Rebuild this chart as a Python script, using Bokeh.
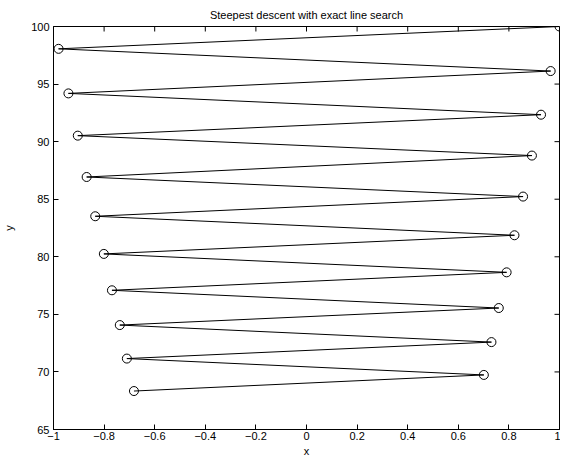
import math
from bokeh.plotting import figure
from bokeh.models import Range1d, FixedTicker
from bokeh.embed import file_html
from bokeh.resources import INLINE

x_vals = [1.0, -0.980, 0.965, -0.941, 0.927, -0.904, 0.891, -0.869, 0.856, -0.835,
          0.822, -0.801, 0.791, -0.769, 0.760, -0.738, 0.731, -0.710, 0.701, -0.682]
y_vals = [100.0, 98.06, 96.13, 94.19, 92.34, 90.52, 88.79, 86.93, 85.23, 83.52,
          81.87, 80.25, 78.65, 77.09, 75.55, 74.07, 72.59, 71.16, 69.74, 68.34]
x_ticks = [-1, -0.8, -0.6, -0.4, -0.2, 0, 0.2, 0.4, 0.6, 0.8, 1]
y_ticks = [65, 70, 75, 80, 85, 90, 95, 100]
x_min, x_max = -1, 1
y_min, y_max = 65, 100
title_text = "Steepest descent with exact line search"

FONT = "Liberation Sans"

p = figure(width=560, height=459, output_backend="svg", toolbar_location=None,
           x_range=Range1d(x_min, x_max), y_range=Range1d(y_min, y_max),
           title=title_text, min_border_left=46, min_border_right=1,
           min_border_top=0, min_border_bottom=0)
p.title.align = "center"
p.title.text_font = FONT
p.title.text_font_size = "11px"
p.title.text_font_style = "normal"
p.title.text_color = "black"
p.title.offset = 0
p.title.standoff = 12
p.grid.visible = False
p.outline_line_color = "black"
p.outline_line_width = 1
p.background_fill_color = "white"
p.border_fill_color = "white"

p.line(x_vals, y_vals, line_color="black", line_width=1)
p.scatter(x_vals, y_vals, marker="circle", size=9, fill_color=None,
          line_color="black", line_width=1)

# inward ticks on the top and right edges of the box
p.ray(x=x_ticks, y=[y_max] * len(x_ticks), length=5, length_units="screen",
      angle=-math.pi / 2, line_color="black", line_width=1)
p.ray(x=[x_max] * len(y_ticks), y=y_ticks, length=5, length_units="screen",
      angle=math.pi, line_color="black", line_width=1)

for ax in p.xaxis:
    ax.ticker = FixedTicker(ticks=x_ticks)
    ax.axis_label = "x"
    ax.major_label_standoff = 2
    ax.axis_label_standoff = 2
for ax in p.yaxis:
    ax.ticker = FixedTicker(ticks=y_ticks)
    ax.axis_label = "y"
    ax.major_label_standoff = 4
    ax.axis_label_standoff = 13

for ax in list(p.xaxis) + list(p.yaxis):
    ax.major_tick_in = 5
    ax.major_tick_out = 0
    ax.minor_tick_line_color = None
    ax.major_label_text_font = FONT
    ax.major_label_text_font_size = "11px"
    ax.major_label_text_color = "black"
    ax.axis_label_text_font = FONT
    ax.axis_label_text_font_size = "11px"
    ax.axis_label_text_font_style = "normal"
    ax.axis_label_text_color = "black"
    ax.axis_line_color = "black"
    ax.major_tick_line_color = "black"

open("out.html", "w").write(file_html(p, INLINE))
